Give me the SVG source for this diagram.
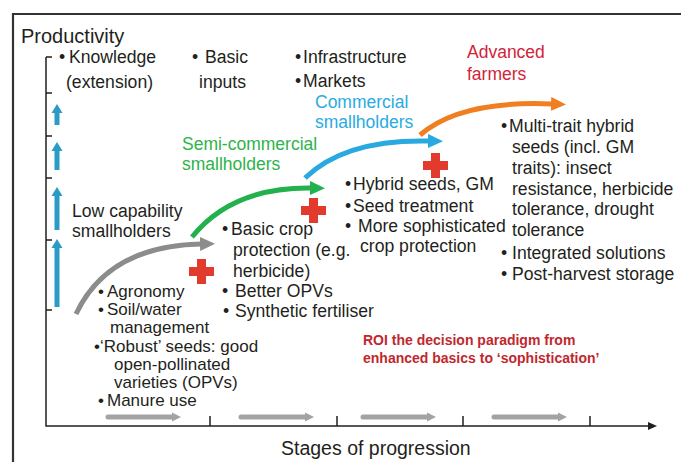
<svg xmlns="http://www.w3.org/2000/svg" width="681" height="462" viewBox="0 0 681 462">
<style>
.t{font-family:"Liberation Sans",Arial,sans-serif;font-size:17.6px;fill:#231f20}
.sm{font-size:17px}
.lbl{font-size:17.5px}
.g{fill:#2db34a}.b{fill:#29abe2}.r{fill:#d0243a}
.roi{font-family:"Liberation Sans",Arial,sans-serif;font-size:14px;font-weight:bold;fill:#c1272d}
.ax{stroke:#231f20;stroke-width:1.5;fill:none}
.cross{fill:#e23b2e}
.up{fill:#2a9bc4}
.sa{stroke:#a3a3a3;stroke-width:5;stroke-linecap:round;fill:none}
.sh{fill:#a3a3a3}
.cv{fill:none;stroke-width:5}
</style>
<defs>
<marker id="hGray" markerUnits="userSpaceOnUse" markerWidth="16" markerHeight="14" refX="1" refY="7" orient="auto"><path d="M0,0 L15,7 L0,14 z" fill="#8c8c8c"/></marker>
<marker id="hGreen" markerUnits="userSpaceOnUse" markerWidth="16" markerHeight="14" refX="1" refY="7" orient="auto"><path d="M0,0 L15,7 L0,14 z" fill="#22b14c"/></marker>
<marker id="hBlue" markerUnits="userSpaceOnUse" markerWidth="16" markerHeight="14" refX="1" refY="7" orient="auto"><path d="M0,0 L15,7 L0,14 z" fill="#29a9e0"/></marker>
<marker id="hOrange" markerUnits="userSpaceOnUse" markerWidth="16" markerHeight="14" refX="1" refY="7" orient="auto"><path d="M0,0 L15,7 L0,14 z" fill="#f07f22"/></marker>
<marker id="hAxis" markerUnits="userSpaceOnUse" markerWidth="10" markerHeight="8" refX="2" refY="4" orient="auto"><path d="M0,0 L9,4 L0,8 z" fill="#231f20"/></marker>
</defs>
<rect width="681" height="462" fill="#fff"/>
<path d="M13,462 V14 H681" fill="none" stroke="#333" stroke-width="2.2"/>

<g id="axes">
<path class="ax" d="M46,57 V426 H650" marker-end="url(#hAxis)"/>
<path class="ax" d="M46,57 H52 M46,93 H52 M46,136 H52 M46,178 H52 M46,240 H52 M46,310 H52"/>
<path class="ax" d="M210,416 V426 M337,416 V426 M463,416 V426 M590,416 V426"/>
<text class="t" x="21" y="43" style="font-size:20px">Productivity</text>
<text class="t" x="281" y="455" style="font-size:19.5px">Stages of progression</text>
</g>

<g id="up-arrows">
<rect class="up" x="54.5" y="111" width="5" height="14"/><path class="up" d="M51.5,113 L57,104 L62.5,113 z"/>
<rect class="up" x="54.5" y="149" width="5" height="21"/><path class="up" d="M51.5,151 L57,142 L62.5,151 z"/>
<rect class="up" x="54.5" y="194" width="5" height="36"/><path class="up" d="M51.5,196 L57,187 L62.5,196 z"/>
<rect class="up" x="54.5" y="246" width="5" height="61"/><path class="up" d="M51.5,248 L57,239 L62.5,248 z"/>
</g>

<g id="stage-arrows">
<path class="sa" d="M108,417 H174"/><path class="sh" d="M172,412.5 L181,417 L172,421.5 z"/>
<path class="sa" d="M241,417 H307"/><path class="sh" d="M305,412.5 L314,417 L305,421.5 z"/>
<path class="sa" d="M363,417 H429"/><path class="sh" d="M427,412.5 L436,417 L427,421.5 z"/>
<path class="sa" d="M494,417 H560"/><path class="sh" d="M558,412.5 L567,417 L558,421.5 z"/>
</g>

<g id="connectors">
<path class="cv" stroke="#8c8c8c" d="M76,314 Q108,246 201,244" marker-end="url(#hGray)"/>
<path class="cv" stroke="#22b14c" d="M192,237 Q232,187 311,188" marker-end="url(#hGreen)"/>
<path class="cv" stroke="#29a9e0" d="M305,178 Q345,139 429,141" marker-end="url(#hBlue)"/>
<path class="cv" stroke="#f07f22" d="M420,135 Q460,100 552,104" marker-end="url(#hOrange)"/>
</g>

<g id="top-drivers">
<text class="t"><tspan x="59" y="63">•</tspan><tspan x="69" y="63">Knowledge</tspan><tspan x="66" y="88">(extension)</tspan></text>
<text class="t"><tspan x="192" y="63">•</tspan><tspan x="205" y="63">Basic</tspan><tspan x="199" y="88">inputs</tspan></text>
<text class="t"><tspan x="295" y="63">•</tspan><tspan x="303" y="63">Infrastructure</tspan><tspan x="295" y="87">•</tspan><tspan x="303" y="87">Markets</tspan></text>
</g>

<g id="low-capability">
<text class="t"><tspan x="72" y="217">Low capability</tspan><tspan x="72" y="237">smallholders</tspan></text>
</g>
<g id="semi-commercial">
<text class="t lbl g"><tspan x="182" y="150">Semi-commercial</tspan><tspan x="182" y="170">smallholders</tspan></text>
</g>
<g id="commercial">
<text class="t lbl b"><tspan x="315" y="108">Commercial</tspan><tspan x="315" y="128">smallholders</tspan></text>
</g>
<g id="advanced">
<text class="t lbl r"><tspan x="467" y="58">Advanced</tspan><tspan x="467" y="80">farmers</tspan></text>
</g>

<g id="list-low">
<text class="t sm"><tspan x="98" y="297">•</tspan><tspan x="107" y="297">Agronomy</tspan><tspan x="98" y="315">•</tspan><tspan x="107" y="315">Soil/water</tspan><tspan x="110" y="333">management</tspan><tspan x="94" y="352">•</tspan><tspan x="100" y="352">‘Robust’ seeds: good</tspan><tspan x="114" y="370">open-pollinated</tspan><tspan x="114" y="388">varieties (OPVs)</tspan><tspan x="98" y="406">•</tspan><tspan x="107" y="406">Manure use</tspan></text>
</g>
<g id="list-semi">
<text class="t"><tspan x="222" y="235">•</tspan><tspan x="231" y="235">Basic crop</tspan><tspan x="233" y="256">protection (e.g.</tspan><tspan x="233" y="277">herbicide)</tspan><tspan x="222" y="297">•</tspan><tspan x="235" y="297">Better OPVs</tspan><tspan x="223" y="317">•</tspan><tspan x="235" y="317">Synthetic fertiliser</tspan></text>
</g>
<g id="list-commercial">
<text class="t"><tspan x="345" y="190">•</tspan><tspan x="353" y="190">Hybrid seeds, GM</tspan><tspan x="345" y="212">•</tspan><tspan x="353" y="212">Seed treatment</tspan><tspan x="345" y="232">•</tspan><tspan x="358" y="232">More sophisticated</tspan><tspan x="360" y="252">crop protection</tspan></text>
</g>
<g id="list-advanced">
<text class="t"><tspan x="501" y="132">•</tspan><tspan x="509" y="132">Multi-trait hybrid</tspan><tspan x="512" y="153">seeds (incl. GM</tspan><tspan x="512" y="174">traits): insect</tspan><tspan x="512" y="195">resistance, herbicide</tspan><tspan x="512" y="215">tolerance, drought</tspan><tspan x="512" y="236">tolerance</tspan><tspan x="501" y="259">•</tspan><tspan x="512" y="259">Integrated solutions</tspan><tspan x="501" y="280">•</tspan><tspan x="512" y="280">Post-harvest storage</tspan></text>
</g>

<g id="crosses">
<path class="cross" d="M197,259 h9 v8 h8 v9 h-8 v8 h-9 v-8 h-8 v-9 h8 z"/>
<path class="cross" d="M309,198 h9 v8 h8 v9 h-8 v8 h-9 v-8 h-8 v-9 h8 z"/>
<path class="cross" d="M431,153 h9 v8 h8 v9 h-8 v8 h-9 v-8 h-8 v-9 h8 z"/>
</g>

<g id="roi-note">
<text class="roi"><tspan x="363" y="345">ROI the decision paradigm from</tspan><tspan x="363" y="363">enhanced basics to ‘sophistication’</tspan></text>
</g>
</svg>
